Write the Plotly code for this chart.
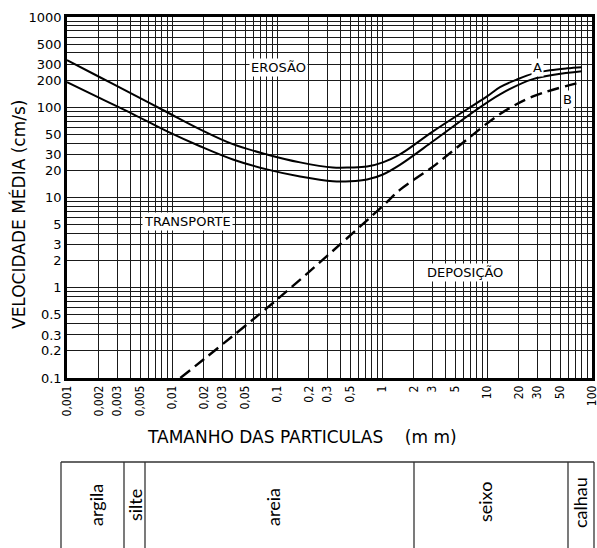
import numpy as np
import plotly.graph_objects as go

# ---- data (size in mm, velocity in cm/s) ----
size_erosion_top = [0.001, 0.00206, 0.00425, 0.009, 0.0185, 0.038, 0.08, 0.166, 0.34, 0.5, 0.72,
                    1.02, 1.48, 3.06, 6.45, 10, 13.3, 19.3, 27.4, 39.8, 57.8, 80]
vel_erosion_top = [333, 215, 139, 88, 57, 39, 30, 24.5, 21.5, 21.5, 22,
                   24.5, 30, 54, 95, 132, 167, 203, 236, 257, 270, 278]

size_erosion_low = [0.001, 0.00206, 0.00425, 0.009, 0.0185, 0.038, 0.08, 0.166, 0.34, 0.5, 0.72,
                    1.02, 1.48, 3.06, 6.45, 13.3, 27.4, 80]
vel_erosion_low = [190, 126, 84, 54, 37, 26.4, 20.5, 17.1, 15.1, 15.1, 15.8,
                   18, 23, 42, 79, 139, 205, 251]

size_deposit = [0.012, 0.1, 1.0, 1.5, 3.06, 6.45, 13.3, 27.4, 80]
vel_deposit = [0.1, 0.74, 7.9, 12.3, 22, 44, 84, 132, 190]

x_tick_vals = [0.001, 0.002, 0.003, 0.005, 0.01, 0.02, 0.03, 0.05, 0.1, 0.2, 0.3, 0.5,
               1, 2, 3, 5, 10, 20, 30, 50, 100]
x_tick_text = ["0,001", "0,002", "0,003", "0,005", "0,01", "0,02", "0,03", "0,05", "0,1", "0,2",
               "0,3", "0,5", "1", "2", "3", "5", "10", "20", "30", "50", "100"]
y_tick_vals = [0.1, 0.2, 0.3, 0.5, 1, 2, 3, 5, 10, 20, 30, 50, 100, 200, 300, 500, 1000]
y_tick_text = ["0.1", "0.2", "0.3", "0.5", "1", "2", "3", "5", "10", "20", "30", "50",
               "100", "200", "300", "500", "1000"]

region_labels = ["EROSÃO", "TRANSPORTE", "DEPOSIÇÃO", "A", "B"]
region_size = [0.1035, 0.0141, 6.2, 30, 59]
region_vel = [279, 5.4, 1.46, 279, 123]

classes = ["argila", "silte", "areia", "seixo", "calhau"]

# ---- layout constants ----
W, H = 597, 548
L, R, T, B = 67, 5, 17, 170
PW, PH = W - L - R, H - T - B


def px(p):
    return (p - L) / PW


def py(p):
    return (H - B - p) / PH


def grid_vals(lo, hi):
    vals = []
    for e in range(lo, hi):
        for m in range(1, 10):
            vals.append(m * 10.0 ** e)
    vals.append(10.0 ** hi)
    return vals


def build_ticks(vals_all, lab_vals, lab_text):
    text = []
    for v in vals_all:
        lab = ""
        for lv, lt in zip(lab_vals, lab_text):
            if abs(np.log10(v) - np.log10(lv)) < 1e-6:
                lab = lt
        text.append(lab)
    return text


xg = grid_vals(-3, 2)
yg = grid_vals(-1, 3)

fig = go.Figure()
fig.add_trace(go.Scatter(x=size_erosion_top, y=vel_erosion_top, mode="lines",
                         line=dict(color="black", width=2, shape="spline"), showlegend=False))
fig.add_trace(go.Scatter(x=size_erosion_low, y=vel_erosion_low, mode="lines",
                         line=dict(color="black", width=2, shape="spline"), showlegend=False))
fig.add_trace(go.Scatter(x=size_deposit, y=vel_deposit, mode="lines",
                         line=dict(color="black", width=2.4, shape="spline", dash="12px,6px"),
                         showlegend=False))

grid_col = "#1a1a1a"
fig.update_xaxes(type="log", range=[-3, 2], tickmode="array", tickvals=xg,
                 ticktext=build_ticks(xg, x_tick_vals, x_tick_text), tickangle=-90,
                 showgrid=True, gridcolor=grid_col, gridwidth=1, automargin=False,
                 showline=True, linecolor="black", linewidth=2.5, mirror=True,
                 ticks="", zeroline=False, ticklabeloverflow="allow",
                 tickfont=dict(family="DejaVu Sans Condensed, Liberation Sans Narrow, DejaVu Sans",
                               size=12, color="black"))
fig.update_yaxes(type="log", range=[-1, 3], tickmode="array", tickvals=yg,
                 ticktext=build_ticks(yg, y_tick_vals, y_tick_text),
                 showgrid=True, gridcolor=grid_col, gridwidth=1, automargin=False,
                 showline=True, linecolor="black", linewidth=2.5, mirror=True,
                 ticks="", zeroline=False, ticklabeloverflow="allow",
                 tickfont=dict(family="DejaVu Sans", size=13, color="black"))

annotations = []
for lab, s, v in zip(region_labels, region_size, region_vel):
    annotations.append(dict(x=np.log10(s), y=np.log10(v), xref="x", yref="y", text=lab,
                            xanchor="center", yanchor="middle",
                            showarrow=False, bgcolor="white", borderpad=1,
                            font=dict(family="DejaVu Sans", size=13, color="black")))

# axis titles
annotations.append(dict(x=px(18), y=py(215), xref="paper", yref="paper",
                        xanchor="center", yanchor="middle",
                        text="VELOCIDADE MÉDIA (cm/s)", textangle=-90, showarrow=False,
                        font=dict(family="DejaVu Sans", size=17, color="black")))
annotations.append(dict(x=px(302), y=py(437), xref="paper", yref="paper",
                        xanchor="center", yanchor="middle",
                        text="TAMANHO DAS PARTICULAS\u00a0\u00a0\u00a0\u00a0(m\u00a0m)", showarrow=False,
                        font=dict(family="DejaVu Sans", size=17, color="black")))

# grain-size class table below the chart
col_edges = [61, 124, 145, 414, 568, 594]
label_pos = [(96, 505), (135, 505), (273, 507), (485, 502), (580, 503)]
shapes = []
tbl_col = "#333333"
shapes.append(dict(type="line", xref="paper", yref="paper", x0=px(col_edges[0]), x1=px(col_edges[-1]),
                   y0=py(462), y1=py(462), line=dict(color=tbl_col, width=1.3)))
for e in col_edges:
    shapes.append(dict(type="line", xref="paper", yref="paper", x0=px(e), x1=px(e),
                       y0=py(462), y1=py(H), line=dict(color=tbl_col, width=1.3)))
for name, (lx, ly) in zip(classes, label_pos):
    annotations.append(dict(x=px(lx), y=py(ly), xref="paper", yref="paper", text=name,
                            xanchor="center", yanchor="middle",
                            textangle=-90, showarrow=False,
                            font=dict(family="Lato, Open Sans", size=18, color="black")))

fig.update_layout(width=W, height=H, margin=dict(l=L, r=R, t=T, b=B),
                  paper_bgcolor="white", plot_bgcolor="white",
                  annotations=annotations, shapes=shapes, showlegend=False)

fig.write_html("out.html", config={"displayModeBar": False},
               post_script="document.body.style.margin='0';document.body.style.overflow='hidden';")
